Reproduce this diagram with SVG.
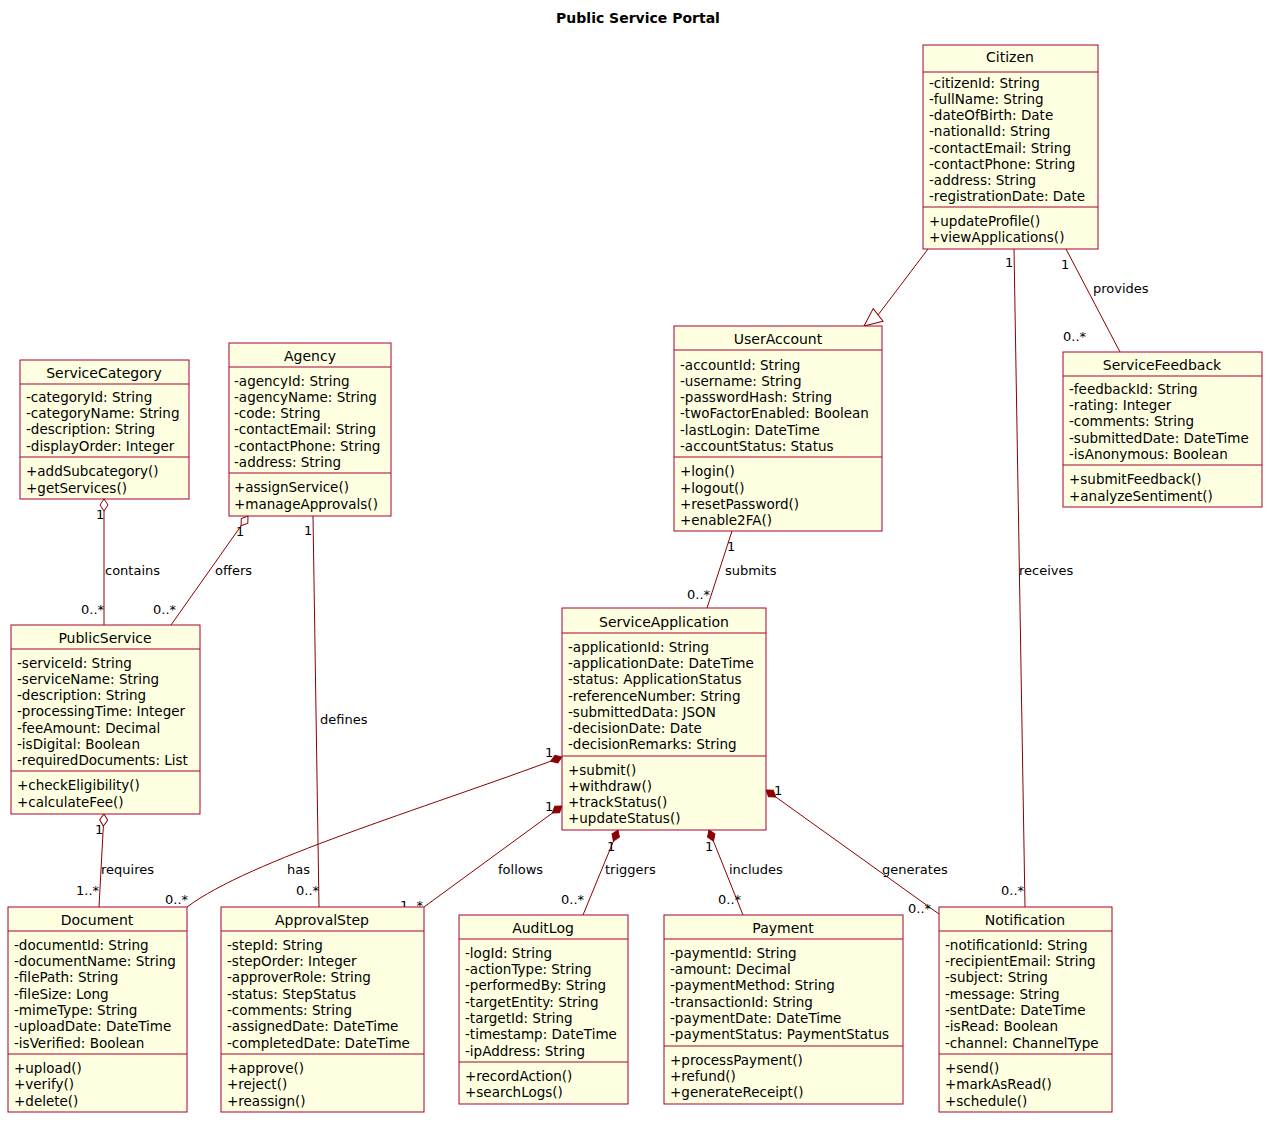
<svg xmlns="http://www.w3.org/2000/svg" width="1276" height="1126" viewBox="0 0 1276 1126">
<style>
.b{fill:#FEFFE0;stroke:#A80036;stroke-width:1}
.s{stroke:#A80036;stroke-width:1}
text{font-family:"DejaVu Sans","Liberation Sans",sans-serif;fill:#000}
.t{font-size:14px;text-anchor:middle}
.a{font-size:13.5px}
.l{font-size:13px}
.c path{fill:none;stroke:#8B0000;stroke-width:1}
</style>
<defs>
<marker id="ho" viewBox="-1 -5 14 10" refX="0" refY="0" markerWidth="14" markerHeight="10" orient="auto" markerUnits="userSpaceOnUse"><path d="M0,0 L6,-4 L12,0 L6,4 Z" fill="#fff" stroke="#8B0000"/></marker>
<marker id="fi" viewBox="-1 -5 14 10" refX="0" refY="0" markerWidth="14" markerHeight="10" orient="auto" markerUnits="userSpaceOnUse"><path d="M0,0 L6,-4 L12,0 L6,4 Z" fill="#8B0000" stroke="#8B0000"/></marker>
<marker id="tr" viewBox="-1 -10 20 20" refX="18" refY="0" markerWidth="20" markerHeight="20" orient="auto" markerUnits="userSpaceOnUse"><path d="M0,-8 L18,0 L0,8 Z" fill="#fff" stroke="#8B0000"/></marker>
</defs>
<rect width="1276" height="1126" fill="#fff"/>
<text x="638" y="23" style="font-size:14px;font-weight:bold;text-anchor:middle">Public Service Portal</text>

<g class="c">
<path d="M928,249 L878,315 L864,326" marker-end="url(#tr)"/>
<path d="M1014,249 L1025,907"/>
<path d="M1066,249 L1120,352"/>
<path d="M732,531 L707,608"/>
<path d="M104,499 L104,625" marker-start="url(#ho)"/>
<path d="M248,516 L171,625" marker-start="url(#ho)"/>
<path d="M313,516 L319,907"/>
<path d="M104,814 L99,907" marker-start="url(#ho)"/>
<path d="M562,757 C420,810 250,860 187,907" marker-start="url(#fi)"/>
<path d="M562,806 L424,907" marker-start="url(#fi)"/>
<path d="M618,830 L583,915" marker-start="url(#fi)"/>
<path d="M709,830 L743,915" marker-start="url(#fi)"/>
<path d="M766,790 L939,914" marker-start="url(#fi)"/>
<g class="l">
<text x="1019" y="575">receives</text><text x="1005" y="267">1</text><text x="1001" y="895">0..*</text>
<text x="1093" y="293">provides</text><text x="1061" y="269">1</text><text x="1063" y="341">0..*</text>
<text x="725" y="575">submits</text><text x="727" y="551">1</text><text x="687" y="599">0..*</text>
<text x="105" y="575">contains</text><text x="96" y="519">1</text><text x="81" y="614">0..*</text>
<text x="215" y="575">offers</text><text x="236" y="536">1</text><text x="153" y="614">0..*</text>
<text x="320" y="724">defines</text><text x="304" y="535">1</text><text x="296" y="895">0..*</text>
<text x="101" y="874">requires</text><text x="95" y="834">1</text><text x="76" y="895">1..*</text>
<text x="287" y="874">has</text><text x="545" y="757">1</text><text x="165" y="904">0..*</text>
<text x="498" y="874">follows</text><text x="545" y="811">1</text><text x="400" y="910">1..*</text>
<text x="605" y="874">triggers</text><text x="607" y="851">1</text><text x="561" y="904">0..*</text>
<text x="729" y="874">includes</text><text x="705" y="851">1</text><text x="718" y="904">0..*</text>
<text x="882" y="874">generates</text><text x="774" y="795">1</text><text x="908" y="913">0..*</text>
</g>
</g>

<g id="Citizen"><rect class="b" x="923" y="45" width="175" height="204"/><text class="t" x="1010" y="62">Citizen</text><path class="s" d="M923,72H1098M923,207H1098"/>
<text class="a" x="929" y="88">-citizenId: String</text><text class="a" x="929" y="104">-fullName: String</text><text class="a" x="929" y="120">-dateOfBirth: Date</text><text class="a" x="929" y="136">-nationalId: String</text><text class="a" x="929" y="153">-contactEmail: String</text><text class="a" x="929" y="169">-contactPhone: String</text><text class="a" x="929" y="185">-address: String</text><text class="a" x="929" y="201">-registrationDate: Date</text>
<text class="a" x="929" y="226">+updateProfile()</text><text class="a" x="929" y="242">+viewApplications()</text></g>

<g id="ServiceCategory"><rect class="b" x="20" y="360" width="169" height="139"/><text class="t" x="104" y="378">ServiceCategory</text><path class="s" d="M20,384H189M20,457H189"/>
<text class="a" x="26" y="402">-categoryId: String</text><text class="a" x="26" y="418">-categoryName: String</text><text class="a" x="26" y="434">-description: String</text><text class="a" x="26" y="451">-displayOrder: Integer</text>
<text class="a" x="26" y="476">+addSubcategory()</text><text class="a" x="26" y="493">+getServices()</text></g>

<g id="Agency"><rect class="b" x="229" y="343" width="162" height="173"/><text class="t" x="310" y="361">Agency</text><path class="s" d="M229,367H391M229,473H391"/>
<text class="a" x="234" y="386">-agencyId: String</text><text class="a" x="234" y="402">-agencyName: String</text><text class="a" x="234" y="418">-code: String</text><text class="a" x="234" y="434">-contactEmail: String</text><text class="a" x="234" y="451">-contactPhone: String</text><text class="a" x="234" y="467">-address: String</text>
<text class="a" x="234" y="492">+assignService()</text><text class="a" x="234" y="509">+manageApprovals()</text></g>

<g id="UserAccount"><rect class="b" x="674" y="326" width="208" height="205"/><text class="t" x="778" y="344">UserAccount</text><path class="s" d="M674,350H882M674,457H882"/>
<text class="a" x="680" y="370">-accountId: String</text><text class="a" x="680" y="386">-username: String</text><text class="a" x="680" y="402">-passwordHash: String</text><text class="a" x="680" y="418">-twoFactorEnabled: Boolean</text><text class="a" x="680" y="435">-lastLogin: DateTime</text><text class="a" x="680" y="451">-accountStatus: Status</text>
<text class="a" x="680" y="476">+login()</text><text class="a" x="680" y="493">+logout()</text><text class="a" x="680" y="509">+resetPassword()</text><text class="a" x="680" y="525">+enable2FA()</text></g>

<g id="ServiceFeedback"><rect class="b" x="1063" y="352" width="199" height="155"/><text class="t" x="1162" y="370">ServiceFeedback</text><path class="s" d="M1063,376H1262M1063,465H1262"/>
<text class="a" x="1069" y="394">-feedbackId: String</text><text class="a" x="1069" y="410">-rating: Integer</text><text class="a" x="1069" y="426">-comments: String</text><text class="a" x="1069" y="443">-submittedDate: DateTime</text><text class="a" x="1069" y="459">-isAnonymous: Boolean</text>
<text class="a" x="1069" y="484">+submitFeedback()</text><text class="a" x="1069" y="501">+analyzeSentiment()</text></g>

<g id="PublicService"><rect class="b" x="11" y="625" width="189" height="189"/><text class="t" x="105" y="643">PublicService</text><path class="s" d="M11,649H200M11,771H200"/>
<text class="a" x="17" y="668">-serviceId: String</text><text class="a" x="17" y="684">-serviceName: String</text><text class="a" x="17" y="700">-description: String</text><text class="a" x="17" y="716">-processingTime: Integer</text><text class="a" x="17" y="733">-feeAmount: Decimal</text><text class="a" x="17" y="749">-isDigital: Boolean</text><text class="a" x="17" y="765">-requiredDocuments: List</text>
<text class="a" x="17" y="790">+checkEligibility()</text><text class="a" x="17" y="807">+calculateFee()</text></g>

<g id="ServiceApplication"><rect class="b" x="562" y="608" width="204" height="222"/><text class="t" x="664" y="627">ServiceApplication</text><path class="s" d="M562,633H766M562,756H766"/>
<text class="a" x="568" y="652">-applicationId: String</text><text class="a" x="568" y="668">-applicationDate: DateTime</text><text class="a" x="568" y="684">-status: ApplicationStatus</text><text class="a" x="568" y="701">-referenceNumber: String</text><text class="a" x="568" y="717">-submittedData: JSON</text><text class="a" x="568" y="733">-decisionDate: Date</text><text class="a" x="568" y="749">-decisionRemarks: String</text>
<text class="a" x="568" y="775">+submit()</text><text class="a" x="568" y="791">+withdraw()</text><text class="a" x="568" y="807">+trackStatus()</text><text class="a" x="568" y="823">+updateStatus()</text></g>

<g id="Document"><rect class="b" x="8" y="907" width="179" height="205"/><text class="t" x="97" y="925">Document</text><path class="s" d="M8,931H187M8,1054H187"/>
<text class="a" x="14" y="950">-documentId: String</text><text class="a" x="14" y="966">-documentName: String</text><text class="a" x="14" y="982">-filePath: String</text><text class="a" x="14" y="999">-fileSize: Long</text><text class="a" x="14" y="1015">-mimeType: String</text><text class="a" x="14" y="1031">-uploadDate: DateTime</text><text class="a" x="14" y="1048">-isVerified: Boolean</text>
<text class="a" x="14" y="1073">+upload()</text><text class="a" x="14" y="1089">+verify()</text><text class="a" x="14" y="1106">+delete()</text></g>

<g id="ApprovalStep"><rect class="b" x="221" y="907" width="203" height="205"/><text class="t" x="322" y="925">ApprovalStep</text><path class="s" d="M221,931H424M221,1054H424"/>
<text class="a" x="227" y="950">-stepId: String</text><text class="a" x="227" y="966">-stepOrder: Integer</text><text class="a" x="227" y="982">-approverRole: String</text><text class="a" x="227" y="999">-status: StepStatus</text><text class="a" x="227" y="1015">-comments: String</text><text class="a" x="227" y="1031">-assignedDate: DateTime</text><text class="a" x="227" y="1048">-completedDate: DateTime</text>
<text class="a" x="227" y="1073">+approve()</text><text class="a" x="227" y="1089">+reject()</text><text class="a" x="227" y="1106">+reassign()</text></g>

<g id="AuditLog"><rect class="b" x="459" y="915" width="169" height="189"/><text class="t" x="543" y="933">AuditLog</text><path class="s" d="M459,939H628M459,1062H628"/>
<text class="a" x="465" y="958">-logId: String</text><text class="a" x="465" y="974">-actionType: String</text><text class="a" x="465" y="990">-performedBy: String</text><text class="a" x="465" y="1007">-targetEntity: String</text><text class="a" x="465" y="1023">-targetId: String</text><text class="a" x="465" y="1039">-timestamp: DateTime</text><text class="a" x="465" y="1056">-ipAddress: String</text>
<text class="a" x="465" y="1081">+recordAction()</text><text class="a" x="465" y="1097">+searchLogs()</text></g>

<g id="Payment"><rect class="b" x="664" y="915" width="239" height="189"/><text class="t" x="783" y="933">Payment</text><path class="s" d="M664,939H903M664,1046H903"/>
<text class="a" x="670" y="958">-paymentId: String</text><text class="a" x="670" y="974">-amount: Decimal</text><text class="a" x="670" y="990">-paymentMethod: String</text><text class="a" x="670" y="1007">-transactionId: String</text><text class="a" x="670" y="1023">-paymentDate: DateTime</text><text class="a" x="670" y="1039">-paymentStatus: PaymentStatus</text>
<text class="a" x="670" y="1065">+processPayment()</text><text class="a" x="670" y="1081">+refund()</text><text class="a" x="670" y="1097">+generateReceipt()</text></g>

<g id="Notification"><rect class="b" x="939" y="907" width="173" height="205"/><text class="t" x="1025" y="925">Notification</text><path class="s" d="M939,931H1112M939,1054H1112"/>
<text class="a" x="945" y="950">-notificationId: String</text><text class="a" x="945" y="966">-recipientEmail: String</text><text class="a" x="945" y="982">-subject: String</text><text class="a" x="945" y="999">-message: String</text><text class="a" x="945" y="1015">-sentDate: DateTime</text><text class="a" x="945" y="1031">-isRead: Boolean</text><text class="a" x="945" y="1048">-channel: ChannelType</text>
<text class="a" x="945" y="1073">+send()</text><text class="a" x="945" y="1089">+markAsRead()</text><text class="a" x="945" y="1106">+schedule()</text></g>
</svg>
